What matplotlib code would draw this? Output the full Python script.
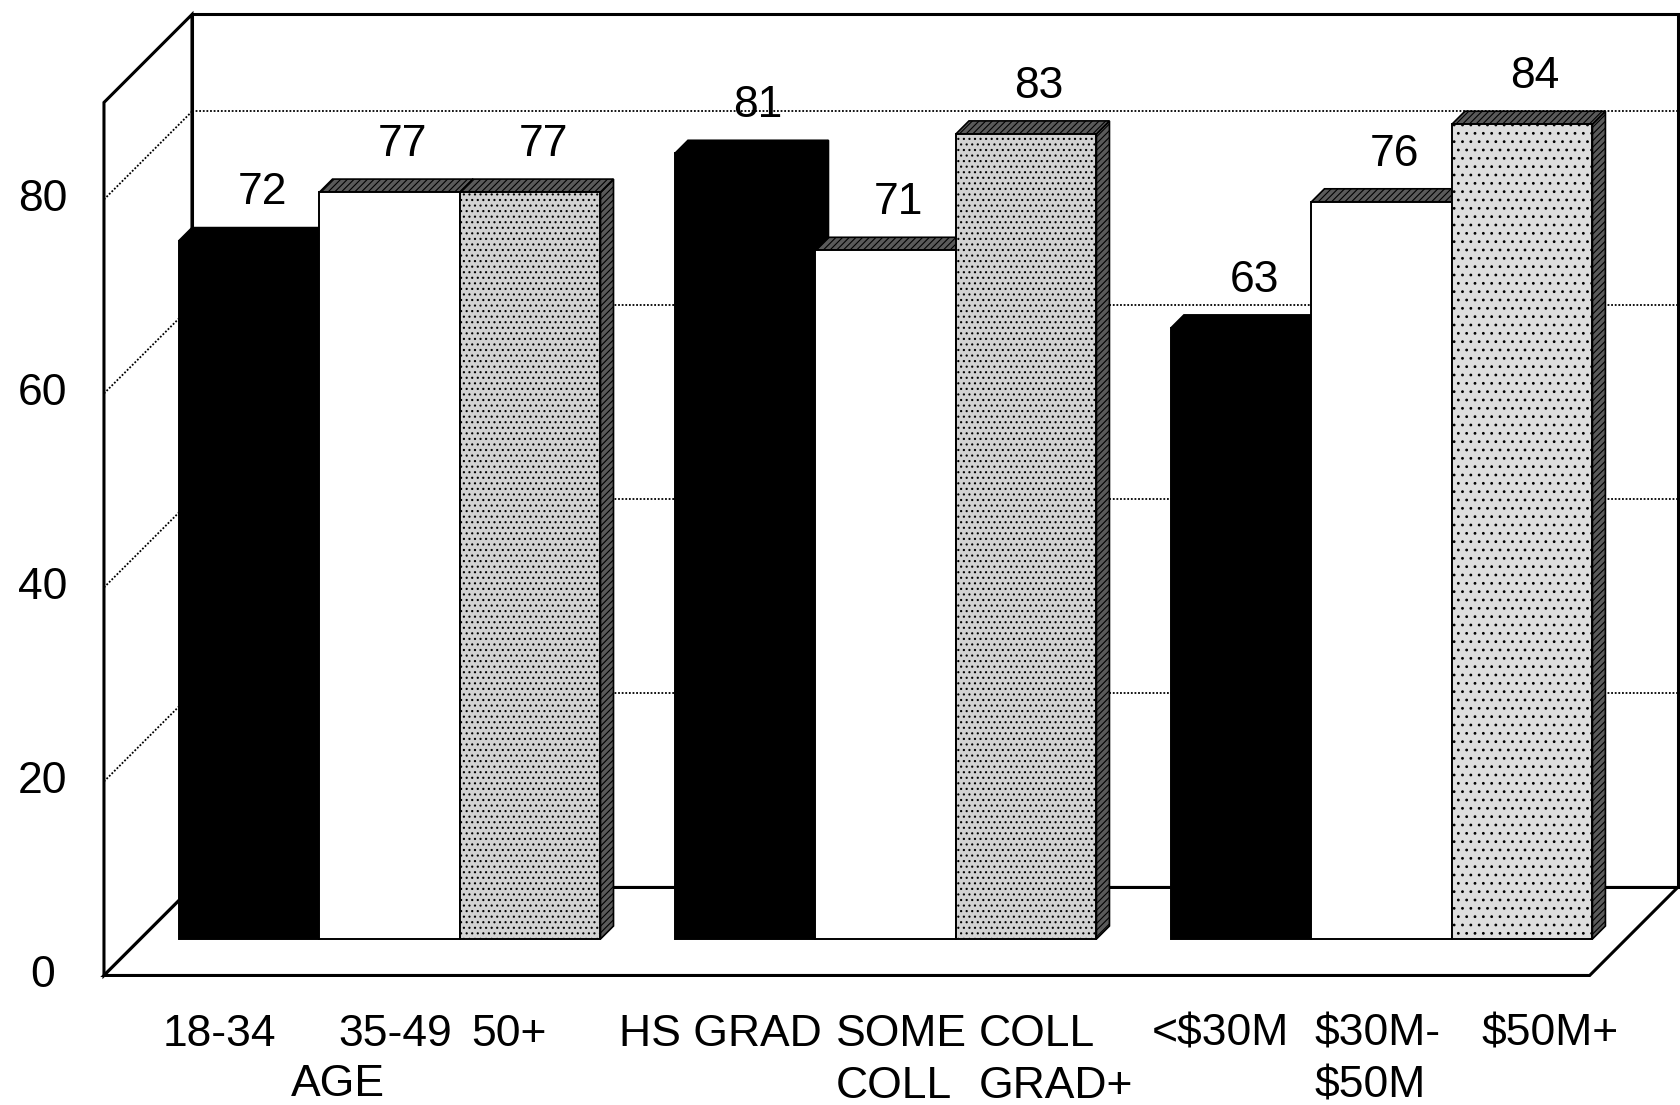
import matplotlib.pyplot as plt
from matplotlib.patches import Polygon

plt.rcParams['font.family'] = ['Liberation Sans', 'DejaVu Sans']
plt.rcParams['hatch.linewidth'] = 0.8

categories = ['18-34', '35-49', '50+',
              'HS GRAD', 'SOME\nCOLL', 'COLL\nGRAD+',
              '<$30M', '$30M-\n$50M', '$50M+']
values = [72, 77, 77, 81, 71, 83, 63, 76, 84]
group_label = 'AGE'
yticks = [0, 20, 40, 60, 80]

# look of the three bars in each group
face_colors = ['black', 'white', '#d2d2d2', 'black', 'white', '#d2d2d2', 'black', 'white', '#dedede']
face_hatch = [None, None, '...', None, None, '...', None, None, '..']

W, H = 1681, 1105
px_x, px_y = 140.5, 9.70          # pixels per bar width / per percent
x0_px, base_px = 179, 939

fig = plt.figure(figsize=(W / 100, H / 100), dpi=100)
ax = fig.add_axes([0, 0, 1, 1])
ax.set_xlim(-x0_px / px_x, (W - x0_px) / px_x)
ax.set_ylim(-(H - base_px) / px_y, base_px / px_y)
ax.axis('off')

# 3d frame
fdx, fdy = 88 / px_x, 88 / px_y
bdx, bdy = 13 / px_x, 13 / px_y
floor_y = -3.76
xl, xr = -0.534, 10.04
top = 90

back = Polygon([(xl + fdx, floor_y + fdy), (xl + fdx, floor_y + fdy + top),
                (xr + fdx, floor_y + fdy + top), (xr + fdx, floor_y + fdy)],
               closed=True, fc='white', ec='black', lw=2.2, zorder=1)
side = Polygon([(xl, floor_y), (xl, floor_y + top), (xl + fdx, floor_y + fdy + top),
                (xl + fdx, floor_y + fdy)], closed=True, fc='white', ec='black', lw=2.2, zorder=1)
floor = Polygon([(xl, floor_y), (xr, floor_y), (xr + fdx, floor_y + fdy),
                 (xl + fdx, floor_y + fdy)], closed=True, fc='white', ec='black', lw=2.2, zorder=1)
for p in (back, side, floor):
    ax.add_patch(p)

for t in yticks[1:]:
    ax.plot([xl + fdx, xr + fdx], [floor_y + fdy + t] * 2, color='black', lw=1.3, ls=(0, (1, 1)), zorder=2)
    ax.plot([xl, xl + fdx], [floor_y + t, floor_y + fdy + t], color='black', lw=1.3, ls=(0, (1, 1)), zorder=2)

for t in yticks:
    ax.text(-0.968, floor_y + t, str(t), ha='center', va='center', fontsize=32)

# bars
lefts = [g * 3.53 + i for g in range(3) for i in range(3)]
label_dx = [-0.21, 0.04, -0.15, -0.18, 0.11, 0.21, -0.15, -0.03, 0.2]

for k, (x, v) in enumerate(zip(lefts, values)):
    z = 3 + k
    dark = face_colors[k] == 'black'
    cap = 'black' if dark else '#5a5a5a'
    hatch = None if dark else '/////'
    ax.add_patch(Polygon([(x + 1, 0), (x + 1 + bdx, bdy), (x + 1 + bdx, v + bdy), (x + 1, v)],
                         closed=True, fc=cap, ec='black', lw=1.2, hatch=hatch, zorder=z))
    ax.add_patch(Polygon([(x, v), (x + bdx, v + bdy), (x + 1 + bdx, v + bdy), (x + 1, v)],
                         closed=True, fc=cap, ec='black', lw=1.2, hatch=hatch, zorder=z))
    ax.bar(x, v, width=1, align='edge', color=face_colors[k], edgecolor='black', lw=1.4,
           hatch=face_hatch[k], zorder=z)
    ax.text(x + 0.5 + bdx, v + bdy + 2.4, str(v), ha='center', va='baseline', fontsize=32, zorder=20)
    ax.text(x + 0.5 + label_dx[k], -7.7, categories[k], ha='center', va='top', fontsize=32,
            multialignment='left', linespacing=1.35)

ax.text(lefts[0] + 1.13, -15.0, group_label, ha='center', va='center', fontsize=32)

fig.savefig('out.png', dpi=100)
